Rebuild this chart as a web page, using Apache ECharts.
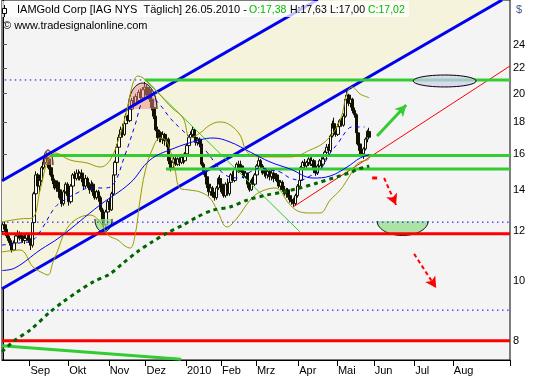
<!DOCTYPE html>
<html><head><meta charset="utf-8">
<script src="https://cdn.jsdelivr.net/npm/echarts@6/dist/echarts.min.js"></script>
<style>html,body{margin:0;padding:0;background:#fff}#c{width:533px;height:380px}</style>
</head><body><div id="c"></div>
<script>
// ---------- calendar ----------
const holidays=['2009-09-07','2009-11-26','2009-12-25','2010-01-01','2010-01-18','2010-02-15','2010-04-02','2010-05-31','2010-07-05','2010-09-06'];
const monthTicks=['2009-09-01','2009-10-01','2009-11-02','2009-12-01','2010-01-04','2010-02-01','2010-03-01','2010-04-01','2010-05-03','2010-06-01','2010-07-01','2010-08-02'];
const monthLabels=['Sep','Okt','Nov','Dez','2010','Feb','Mrz','Apr','Mai','Jun','Jul','Aug'];
const yTicks=[8,10,12,14,16,18,20,22,24];

// ---------- daily candles (IAG, 2009-08-11 .. 2010-05-26) ----------
const open=[12.0,12.3,12.1,11.8,11.6,11.4,11.2,11.5,11.8,11.9,11.7,11.8,11.6,11.7,11.9,11.6,11.4,12.4,13.8,14.8,
14.2,14.5,15.2,15.5,15.8,15.7,15.2,14.8,14.5,14.1,14.4,14.0,13.6,13.3,13.9,14.3,13.7,13.4,14.2,14.8,
14.6,14.9,14.7,14.9,14.6,14.2,14.6,14.3,14.0,14.3,13.9,13.6,13.9,13.6,13.0,12.5,12.3,12.9,13.4,13.0,
13.8,14.8,15.5,16.4,17.0,17.5,17.2,17.9,18.4,18.1,18.9,19.5,19.2,19.8,19.5,20.1,19.7,20.3,20.5,19.9,
20.3,19.6,19.0,18.4,17.5,17.0,17.3,16.9,17.2,16.8,16.9,15.6,15.2,15.5,15.7,15.4,15.7,15.5,15.8,15.6,
16.0,16.5,17.0,17.2,17.5,17.0,16.7,16.9,16.6,15.4,15.0,14.7,14.3,13.9,14.1,13.7,13.6,14.1,14.6,14.3,
13.9,13.7,14.3,13.8,14.4,14.8,14.5,15.1,15.4,15.0,15.3,15.0,14.7,14.9,14.3,14.0,14.5,14.3,14.8,15.3,
15.6,15.3,14.9,15.1,14.8,15.0,14.7,14.9,14.6,14.8,14.5,14.2,14.4,14.0,13.8,14.0,13.7,13.5,13.4,13.3,
13.7,14.2,14.5,15.2,15.5,15.3,15.5,15.7,15.4,15.6,15.1,14.9,15.3,15.6,15.4,15.7,16.1,16.4,16.2,17.1,
17.9,17.6,17.2,17.7,18.1,17.8,18.4,19.6,19.9,19.3,19.6,18.8,18.5,17.3,16.6,16.2,16.0,16.3,16.9,17.38];
const close=[12.3,12.1,11.8,11.6,11.4,11.2,11.5,11.8,11.9,11.7,11.8,11.6,11.7,11.9,11.6,11.4,12.4,13.8,14.8,14.2,
14.5,15.2,15.5,15.8,15.7,15.2,14.8,14.5,14.1,14.4,14.0,13.6,13.3,13.9,14.3,13.7,13.4,14.2,14.8,14.6,
14.9,14.7,14.9,14.6,14.2,14.6,14.3,14.0,14.3,13.9,13.6,13.9,13.6,13.0,12.5,12.3,12.9,13.4,13.0,13.8,
14.8,15.5,16.4,17.0,17.5,17.2,17.9,18.4,18.1,18.9,19.5,19.2,19.8,19.5,20.1,19.7,20.3,20.5,19.9,20.3,
19.6,19.0,18.4,17.5,17.0,17.3,16.9,17.2,16.8,16.9,15.6,15.2,15.5,15.7,15.4,15.7,15.5,15.8,15.6,16.0,
16.5,17.0,17.2,17.5,17.0,16.7,16.9,16.6,15.4,15.0,14.7,14.3,13.9,14.1,13.7,13.6,14.1,14.6,14.3,13.9,
13.7,14.3,13.8,14.4,14.8,14.5,15.1,15.4,15.0,15.3,15.0,14.7,14.9,14.3,14.0,14.5,14.3,14.8,15.3,15.6,
15.3,14.9,15.1,14.8,15.0,14.7,14.9,14.6,14.8,14.5,14.2,14.4,14.0,13.8,14.0,13.7,13.5,13.4,13.3,13.7,
14.2,14.5,15.2,15.5,15.3,15.5,15.7,15.4,15.6,15.1,14.9,15.3,15.6,15.4,15.7,16.1,16.4,16.2,17.1,17.9,
17.6,17.2,17.7,18.1,17.8,18.4,19.6,19.9,19.3,19.6,18.8,18.5,17.3,16.6,16.2,16.0,16.3,16.9,17.4,17.02];
const low=[11.9,12.0,11.7,11.5,11.3,11.1,11.15,11.4,11.6,11.6,11.55,11.5,11.45,11.6,11.5,11.2,11.3,12.3,13.7,14.0,
13.9,14.4,15.1,15.4,15.5,15.1,14.7,14.3,14.0,13.9,13.9,13.5,13.15,13.2,13.8,13.5,13.2,13.3,14.1,14.4,
14.5,14.5,14.5,14.4,14.0,14.1,14.1,13.8,13.9,13.7,13.5,13.5,13.4,12.9,12.4,12.0,12.2,12.8,12.9,12.95,
13.7,14.7,15.4,16.3,16.8,17.0,17.1,17.7,17.9,18.0,18.8,19.0,19.1,19.3,19.4,19.5,19.6,20.1,19.7,19.8,
19.4,18.8,18.2,17.4,16.8,16.7,16.7,16.6,16.5,16.4,15.4,15.0,15.1,15.3,15.3,15.3,15.3,15.4,15.4,15.5,
15.9,16.4,16.8,17.0,16.9,16.5,16.5,16.4,15.3,14.8,14.5,14.1,13.7,13.7,13.6,13.45,13.5,14.0,14.1,13.8,
13.6,13.6,13.7,13.7,14.3,14.4,14.4,15.0,14.9,14.95,14.9,14.6,14.6,14.1,13.9,13.95,14.2,14.2,14.7,15.2,
15.1,14.8,14.7,14.6,14.6,14.5,14.5,14.4,14.5,14.4,14.1,14.0,13.9,13.7,13.6,13.6,13.35,13.25,13.15,13.2,
13.6,14.1,14.4,15.0,15.1,15.1,15.3,15.3,15.3,14.9,14.75,14.8,15.2,15.2,15.3,15.6,16.0,16.0,16.1,17.0,
17.4,17.05,17.1,17.6,17.7,17.7,18.3,19.4,19.1,19.0,18.6,18.3,17.2,16.5,15.9,15.8,15.7,16.2,16.7,17.00];
const high=[12.4,12.45,12.2,11.9,11.7,11.5,11.6,11.9,12.05,12.0,11.95,11.9,11.85,11.95,11.95,11.7,12.5,13.9,15.0,14.9,
14.7,15.3,15.7,15.9,16.1,15.8,15.3,14.9,14.6,14.5,14.5,14.1,13.7,14.0,14.4,14.4,13.8,14.3,14.9,15.0,
15.1,15.1,15.0,15.1,14.7,14.8,14.7,14.4,14.5,14.4,14.0,14.0,14.0,13.7,13.1,12.7,13.0,13.5,13.6,13.9,
14.9,15.6,16.6,17.2,17.7,17.9,18.0,18.6,18.5,19.1,19.7,19.8,20.0,20.1,20.3,20.4,20.5,20.9,20.7,20.5,
20.5,19.8,19.2,18.5,17.7,17.5,17.4,17.4,17.3,17.1,17.0,15.8,15.7,15.9,15.9,15.8,15.8,16.0,16.0,16.1,
16.6,17.1,17.4,17.7,17.6,17.1,17.0,17.0,16.6,15.5,15.1,14.8,14.4,14.3,14.2,13.9,14.2,14.7,14.8,14.5,
14.1,14.4,14.6,14.5,14.9,15.0,15.2,15.5,15.6,15.6,15.4,15.1,15.0,14.9,14.4,14.6,14.7,14.9,15.4,15.8,
15.7,15.4,15.2,15.2,15.1,15.1,15.0,15.0,14.9,14.9,14.6,14.5,14.5,14.2,14.1,14.1,13.8,13.7,13.6,13.8,
14.3,14.6,15.3,15.6,15.7,15.6,15.8,15.8,15.8,15.7,15.2,15.4,15.7,15.8,15.8,16.2,16.6,16.6,17.2,18.1,
18.3,17.8,17.9,18.2,18.3,18.6,19.8,20.2,20.0,19.7,19.7,19.0,18.6,17.5,16.7,16.4,16.4,17.0,17.5,17.63];

// ---------- indicators: [trading-day index, price] ----------
const ma200=[[-0.5,7.68],[6.6,8.02],[14.7,8.32],[25.6,8.90],[32.7,9.24],[40.3,9.58],[49.0,9.95],[58.2,10.25],[65.3,10.67],[72.9,11.12],[81.0,11.54],[89.2,11.93],[97.9,12.29],[105.5,12.66],[114.2,12.99],[123.4,13.14],[132.7,13.48],[143.5,13.74],[152.2,13.89],[161.5,14.10],[170.7,14.36],[179.4,14.63],[184.8,14.80],[189.7,14.96],[193.0,15.13],[197.3,15.24],[199,15.30]];
const ma50=[[-0.5,10.38],[6.6,10.48],[20.2,11.20],[31,11.75],[52.8,13.24],[69.1,14.36],[79.9,15.64],[91.9,16.29],[107.1,16.85],[114.2,16.97],[123.4,16.72],[134.3,16.11],[145.1,15.53],[156,15.13],[168.5,14.63],[177.8,14.74],[187,15.24],[194.1,15.76],[198.4,15.93],[199,15.95]];
const maShort=[[-0.5,11.41],[9.3,11.50],[16.3,11.62],[21.8,12.20],[27.2,12.99],[31,13.34],[40.3,13.84],[47.3,14.10],[54.4,14.10],[59.8,14.26],[66.3,15.93],[71.8,17.81],[76.1,19.54],[79.9,19.76],[85.4,19.18],[90.8,18.28],[96.2,17.61],[103.3,16.85],[109.8,16.23],[115.3,15.47],[120.7,14.80],[128.8,14.63],[134.3,14.96],[139.7,15.18],[145.1,15.07],[150.6,14.96],[156,14.63],[161.5,14.52],[166.9,14.74],[172.3,15.07],[177.8,16.05],[182.1,16.66],[187,17.48],[189.7,17.68],[196.5,17.68]];
const bandUpper=[[-0.5,12.43],[9.3,12.57],[15.8,12.61],[20.2,13.99],[24.5,15.64],[28.3,16.05],[36.5,15.64],[45.7,15.47],[52.8,15.24],[58.2,15.64],[63.6,17.16],[67.4,18.83],[70.7,20.81],[73.4,21.36],[78.8,20.89],[85.4,19.91],[91.9,18.97],[97.9,18.28],[101.7,16.97],[107.1,17.29],[112.5,17.81],[118,18.01],[123.4,17.81],[128.8,17.16],[132.7,16.11],[139.7,15.82],[156,15.82],[166.9,16.23],[176.1,16.85],[183.2,18.14],[187,20.06],[189.7,20.51],[194.1,19.98],[197.9,19.76],[199,19.7]];
const bandLower=[[-0.5,11.12],[9.3,11.20],[16.3,10.52],[21.8,10.28],[24.5,10.21],[27.2,10.71],[29.9,11.20],[33.7,11.97],[39.2,12.52],[47.3,12.75],[52.8,12.43],[57.1,11.84],[62.5,11.62],[66.3,11.37],[69.1,11.28],[71.8,11.84],[74.5,13.48],[77.2,14.96],[81,16.23],[85.4,16.97],[89.2,16.72],[93.5,15.07],[96.2,14.10],[101.7,13.99],[107.1,13.89],[112.5,13.58],[116.3,12.99],[121.8,12.20],[127.2,12.61],[134.3,13.48],[139.7,13.89],[147.9,14.10],[156,13.24],[161.5,12.90],[166.9,12.85],[172.3,12.85],[177.8,13.48],[183.2,13.99],[187,14.52],[190.3,15.07],[193,15.47],[197.9,15.64],[199,15.7]];

// ---------- drawn tools ----------
const channelTop=[[-0.5,14.48],[171,28.35]];
const channelBottom=[[-0.5,9.70],[271.2,28.32]];
const trendRed=[[157.7,13.14],[275.5,22.17]];
const trendGreen=[[77.2,21.05],[161.5,11.97]];
const trendGreenLow=[[-0.5,7.85],[96.8,7.47]];
const greenLevels=[[77.2,21.04],[25.6,15.90],[88.6,15.13]];   // [from day, price]
const redLevels=[11.90,8.00];
const blueDotLevels=[[1,77.2,21.05],[-0.5,275.5,12.42],[-0.5,275.5,8.96]];
const domes=[[68.0,83.7,18.90,20.81],[21.8,27.2,15.35,16.23]];  // [day1, day2, priceLow, priceHigh]
const bowls=[[50.0,59.3,11.97,12.57],[203.3,231.0,11.82,12.47]];
const ellipses=[[222.9,257.1,20.51,21.44]];
const arrowUp=[[203.3,17.1],[219.1,19.18]];
const arrowDownDash=[[200.6,14.63],[203.3,14.63]];
const arrowDown1=[[207.1,14.63],[213.6,13.24]];
const arrowDown2=[[223.4,11.04],[235.4,9.73]];

// ---------- build ----------
const dates=[];
(function(){
  const d=new Date(Date.UTC(2009,7,11)), end=Date.UTC(2010,8,14);
  while(d.getTime()<=end){
    const wd=d.getUTCDay(), s=d.toISOString().slice(0,10);
    if(wd!==0&&wd!==6&&holidays.indexOf(s)<0) dates.push(s);
    d.setUTCDate(d.getUTCDate()+1);
  }
})();
const N=dates.length, XMAX=N-0.5;
const tickIdx=monthTicks.map(d=>dates.indexOf(d));
const candles=open.map((o,i)=>[o,close[i],low[i],high[i]]);

function ln(data,color,width,type,z,extra){
  return Object.assign({type:'line',xAxisIndex:1,yAxisIndex:0,data:data,symbol:'none',silent:true,z:z||4,
    animation:false,lineStyle:{color:color,width:width,type:type||'solid',cap:'butt'}},extra||{});
}
function arcPts(x1,x2,yBase,ry,dir,full){
  const pts=[],cx=(x1+x2)/2,rx=(x2-x1)/2,n=48,end=full?2*Math.PI:Math.PI;
  for(let k=0;k<=n;k++){const t=end*k/n;pts.push([cx-rx*Math.cos(t),yBase+dir*ry*Math.sin(t)]);}
  return pts;
}
const series=[];
series.push({type:'custom',xAxisIndex:1,yAxisIndex:0,z:1,silent:true,clip:true,animation:false,data:[[0,10]],
  renderItem:function(p,api){
    const pts=[channelTop[0],channelTop[1],channelBottom[1],channelBottom[0]].map(v=>api.coord(v));
    return {type:'polygon',shape:{points:pts},style:{fill:'#f5f3dc'}};
  }});
series.push({type:'candlestick',xAxisIndex:0,yAxisIndex:0,data:candles,barWidth:3,z:2,silent:true,animation:false,
  itemStyle:{color:'#ffffff',color0:'#111100',borderColor:'#111100',borderColor0:'#111100',borderWidth:1}});
series.push({type:'custom',xAxisIndex:1,yAxisIndex:0,z:3,silent:true,animation:false,
  data:domes.map(d=>d.concat([0])).concat(bowls.map(d=>d.concat([1]))),
  renderItem:function(p,api){
    const a=api.coord([api.value(0),api.value(3)]),b=api.coord([api.value(1),api.value(2)]);
    const ry=b[1]-a[1];
    if(api.value(4)===0){
      const pts=arcPts(a[0],b[0],b[1],ry,-1,false);
      return {type:'group',children:[
        {type:'polygon',shape:{points:pts},style:{fill:'rgba(240,140,130,0.5)'}},
        {type:'polyline',shape:{points:pts},style:{fill:null,stroke:'#000',lineWidth:1}}]};
    }
    const pts=arcPts(a[0],b[0],a[1],ry,1,false);
    return {type:'group',children:[
      {type:'polygon',shape:{points:pts},style:{fill:'rgba(150,220,140,0.75)'}},
      {type:'polyline',shape:{points:pts},style:{fill:null,stroke:'#000',lineWidth:1}}]};
  }});
series.push(ln(channelTop,'#0000ee',3));
series.push(ln(channelBottom,'#0000ee',3));
series.push(ln(trendRed,'#ff0000',1));
series.push(ln(trendGreen,'#33cc33',1));
series.push(ln(trendGreenLow,'#33cc33',3));
greenLevels.forEach(g=>series.push(ln([[g[0],g[1]],[XMAX,g[1]]],'#33cc33',3)));
redLevels.forEach(r=>series.push(ln([[-0.5,r],[XMAX,r]],'#ff0000',3)));
blueDotLevels.forEach(b=>series.push(ln([[b[0],b[2]],[b[1],b[2]]],'#0000ff',1,[1.5,3.5])));
series.push(ln(bandUpper,'#999900',1,'solid',4,{smooth:0.4}));
series.push(ln(bandLower,'#999900',1,'solid',4,{smooth:0.4}));
series.push(ln(ma50,'#0000ff',1,'solid',4,{smooth:0.4}));
series.push(ln(maShort,'#0000ff',1,[4,4],4,{smooth:0.4}));
series.push(ln(ma200,'#006400',3,[4,4],4,{smooth:0.3}));
series.push({type:'custom',xAxisIndex:1,yAxisIndex:0,z:5,silent:true,animation:false,data:ellipses,
  renderItem:function(p,api){
    const a=api.coord([api.value(0),api.value(3)]),b=api.coord([api.value(1),api.value(2)]);
    const pts=arcPts(a[0],b[0],(a[1]+b[1])/2,(b[1]-a[1])/2,1,true);
    return {type:'polygon',shape:{points:pts},style:{fill:'rgba(205,205,240,0.7)',stroke:'#000',lineWidth:1}};
  }});
series.push(ln(arrowDownDash,'#ff0000',3,'solid',6));
function arrow(seg,color,width,type,curve){
  return {type:'line',xAxisIndex:1,yAxisIndex:0,data:[],z:6,silent:true,animation:false,
    markLine:{silent:true,animation:false,symbol:['none','arrow'],symbolSize:[9,11],label:{show:false},
      lineStyle:{color:color,width:width,type:type,curveness:curve||0},
      data:[[{coord:seg[0]},{coord:seg[1]}]]}};
}
series.push(arrow(arrowUp,'#33cc33',3,'solid'));
series.push(arrow(arrowDown1,'#ff0000',2,[4,3],0.2));
series.push(arrow(arrowDown2,'#ff0000',2,[4,3]));

const FONT='"Liberation Sans", Arial, sans-serif';
function txt(x,y,s,color,size){
  return {type:'text',z:103,silent:true,style:{x:x,y:y,verticalAlign:'middle',text:s,fill:color||'#000',fontSize:size||11,fontFamily:FONT}};
}
const chart=echarts.init(document.getElementById('c'),null,{renderer:'canvas'});
chart.setOption({
  animation:false,
  backgroundColor:'#ffffff',
  grid:{left:2,right:23,top:0,bottom:20,show:true,backgroundColor:'#f4f4f4',borderColor:'#000',borderWidth:1},
  xAxis:[{type:'category',data:dates,boundaryGap:true,
      axisLine:{show:true,lineStyle:{color:'#000',width:1}},
      axisTick:{show:true,interval:(i)=>tickIdx.indexOf(i)>=0,length:6,lineStyle:{color:'#000'}},
      axisLabel:{interval:(i)=>tickIdx.indexOf(i)>=0,formatter:(v,i)=>monthLabels[tickIdx.indexOf(i)]||'',
        align:'left',margin:5,fontSize:11,fontFamily:FONT,color:'#000'},
      splitLine:{show:false}},
    {type:'value',min:-0.5,max:XMAX,show:false}],
  yAxis:[{type:'log',logBase:10,min:7.447,max:28.32,position:'right',
    axisLine:{show:true,lineStyle:{color:'#000'}},
    axisTick:{show:true,customValues:yTicks,length:4,lineStyle:{color:'#555'}},
    axisLabel:{customValues:yTicks,margin:3,fontSize:11,fontFamily:FONT,color:'#000'},
    splitLine:{show:false},minorTick:{show:false}}],
  series:series,
  graphic:[
    {type:'rect',z:100,silent:true,shape:{x:2,y:1,width:407,height:16},style:{fill:'rgba(255,255,255,0.75)'}},
    {type:'line',z:101,silent:true,shape:{x1:4.5,y1:5,x2:4.5,y2:17},style:{stroke:'#000',lineWidth:1}},
    {type:'rect',z:102,silent:true,shape:{x:2.5,y:8.5,width:4,height:5},style:{fill:'#fff',stroke:'#000',lineWidth:1}},
    txt(17,10,'IAMGold Corp [IAG NYS  Täglich] 26.05.2010 -'),
    txt(249,10,'O:17,38','#00bb00',10.5),
    txt(290,10,'H:17,63','#000',10.5),
    txt(330,10,'L:17,00','#000',10.5),
    txt(368,10,'C:17,02','#00bb00',10.5),
    txt(3,26,'© www.tradesignalonline.com'),
    txt(516,10,'$','#3a5a8a')
  ]
});
</script></body></html>
